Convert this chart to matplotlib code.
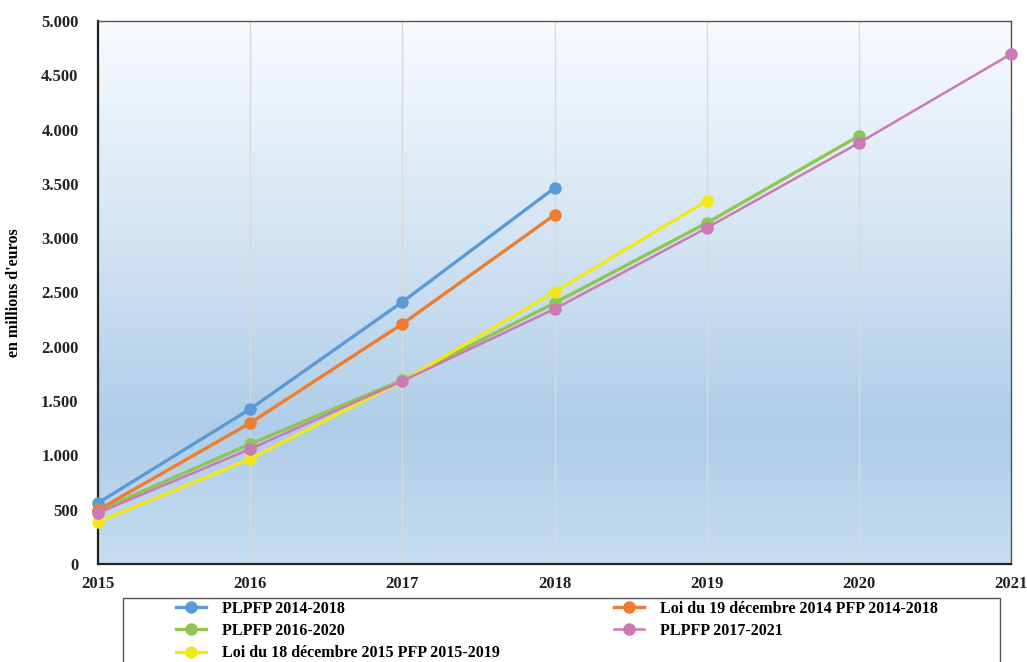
import matplotlib.pyplot as plt
import numpy as np
from matplotlib.colors import LinearSegmentedColormap
from matplotlib.patches import Rectangle
from matplotlib.ticker import FuncFormatter

plt.rcParams['font.family'] = ['Liberation Serif', 'DejaVu Serif']
plt.rcParams['font.weight'] = 'bold'
plt.rcParams['axes.labelweight'] = 'bold'

years = [2015, 2016, 2017, 2018, 2019, 2020, 2021]

plpfp_2014 = [562, 1427, 2413, 3462]
loi_2014 = [497, 1298, 2210, 3214]
plpfp_2016 = [490, 1105, 1694, 2403, 3140, 3941]
plpfp_2017 = [470, 1059, 1685, 2348, 3094, 3877, 4696]
loi_2015 = [387, 967, 1685, 2505, 3343]

series = [
    ("PLPFP 2014-2018", plpfp_2014, '#5b9bd5', 2.4),
    ("PLPFP 2016-2020", plpfp_2016, '#8dc652', 2.4),
    ("Loi du 18 décembre 2015 PFP 2015-2019", loi_2015, '#f2e71d', 2.4),
    ("Loi du 19 décembre 2014 PFP 2014-2018", loi_2014, '#ed7d31', 2.4),
    ("PLPFP 2017-2021", plpfp_2017, '#cc79b6', 1.8),
]

fig = plt.figure(figsize=(10.27, 6.62), dpi=100)
ax = fig.add_axes([98 / 1027, 1 - 564 / 662, 913 / 1027, 543 / 662])

# vertical background gradient, light at top, blue lower down
grad = LinearSegmentedColormap.from_list(
    'bg', [(0.0, '#c6ddf0'), (0.25, '#afcde8'), (0.6, '#d3e4f3'), (1.0, '#f8fbfe')])
ax.imshow(np.linspace(0, 1, 256).reshape(-1, 1), cmap=grad, aspect='auto',
          extent=[2015, 2021, 0, 5000], origin='lower', zorder=0)

for x in years:
    ax.axvline(x, color='#d9d9d9', linewidth=1, zorder=1)

# draw order so pink ends on top of green
draw_order = [0, 3, 1, 2, 4]
lines = {}
for i in draw_order:
    label, vals, color, lw = series[i]
    ln, = ax.plot(years[:len(vals)], vals, color=color, linewidth=lw, marker='o',
                  markersize=8, label=label, zorder=3 + i, clip_on=False)
    lines[i] = ln

ax.set_xlim(2015, 2021)
ax.set_ylim(0, 5000)
ax.set_xticks(years)
ax.set_yticks(np.arange(0, 5001, 500))
ax.yaxis.set_major_formatter(FuncFormatter(lambda v, p: f"{int(v):,}".replace(',', '.')))
ax.tick_params(axis='both', length=0, labelsize=12, colors='#222222')
ax.tick_params(axis='x', pad=9)
ax.tick_params(axis='y', pad=14)

for side in ['left', 'bottom']:
    ax.spines[side].set_color('#222222')
    ax.spines[side].set_linewidth(1.6)
for side in ['top', 'right']:
    ax.spines[side].set_color('#555555')
    ax.spines[side].set_linewidth(1.0)

ax.set_ylabel("en millions d'euros", fontsize=11.5, labelpad=14)

# legend frame runs past the bottom edge of the figure
fig.patches.append(Rectangle((123 / 1027, -0.05), 877 / 1027, 0.05 + 64 / 662,
                             transform=fig.transFigure, facecolor='white',
                             edgecolor='#555555', linewidth=1.0))

leg = fig.legend([lines[i] for i in range(5)], [s[0] for s in series],
                 ncol=2, loc='upper left', bbox_to_anchor=(176 / 1027, 1 - 601 / 662),
                 frameon=False, fontsize=11.5, handlelength=1.9,
                 columnspacing=7.1, labelspacing=0.38, borderpad=0,
                 handletextpad=1.0, borderaxespad=0)

fig.savefig('out.png', dpi=100)
